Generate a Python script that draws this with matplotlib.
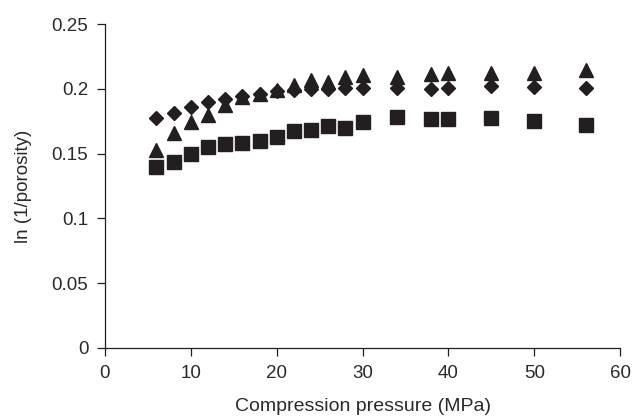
import numpy as np
import matplotlib
matplotlib.use('Agg')
import matplotlib.pyplot as plt

plt.rcParams['font.family'] = ['Liberation Sans', 'DejaVu Sans']

# compression pressure (MPa)
pressure = [6, 8, 10, 12, 14, 16, 18, 20, 22, 24, 26, 28, 30, 34, 38, 40, 45, 50, 56]

# ln(1/porosity) for the three series
diamonds = [0.1775, 0.181, 0.186, 0.190, 0.192, 0.1945, 0.196, 0.198, 0.199, 0.200,
            0.200, 0.201, 0.201, 0.2005, 0.200, 0.2005, 0.202, 0.2012, 0.2006]
triangles = [0.1525, 0.166, 0.1745, 0.180, 0.1875, 0.1935, 0.196, 0.199, 0.203, 0.2065,
             0.205, 0.209, 0.2105, 0.209, 0.2115, 0.2125, 0.2125, 0.212, 0.2145]
squares = [0.1397, 0.1435, 0.1497, 0.155, 0.1574, 0.158, 0.160, 0.163, 0.1674, 0.168,
           0.171, 0.170, 0.174, 0.178, 0.177, 0.177, 0.1775, 0.175, 0.172]

x_ticks = [0, 10, 20, 30, 40, 50, 60]
y_ticks = [0, 0.05, 0.1, 0.15, 0.2, 0.25]
y_tick_labels = ['0', '0.05', '0.1', '0.15', '0.2', '0.25']

col = '#231f20'
txt = '#2a2a2a'

fig = plt.figure(figsize=(6.34, 4.19), dpi=100)
ax = fig.add_axes([0.1656, 0.1695, 0.978 - 0.1656, 0.9427 - 0.1695])

ax.plot(pressure, diamonds, linestyle='none', marker='D', markersize=7, color=col)
ax.plot(pressure, triangles, linestyle='none', marker='^', markersize=10.5, color=col)
ax.plot(pressure, squares, linestyle='none', marker='s', markersize=9.5, color=col)

ax.set_xlim(0, 60)
ax.set_ylim(0, 0.25)
ax.set_xticks(x_ticks)
ax.set_yticks(y_ticks)
ax.set_yticklabels(y_tick_labels)
for s in ['top', 'right']:
    ax.spines[s].set_visible(False)
for s in ['left', 'bottom']:
    ax.spines[s].set_color(col)
    ax.spines[s].set_linewidth(0.9)
ax.tick_params(direction='out', length=6, width=0.9, colors=col, labelsize=13.5, pad=6)
ax.tick_params(labelcolor=txt)

ax.set_xlabel('Compression pressure (MPa)', fontsize=14, color=txt, labelpad=12)
ax.set_ylabel('ln (1/porosity)', fontsize=13.5, color=txt, labelpad=14)

fig.savefig('out.png', dpi=100)
